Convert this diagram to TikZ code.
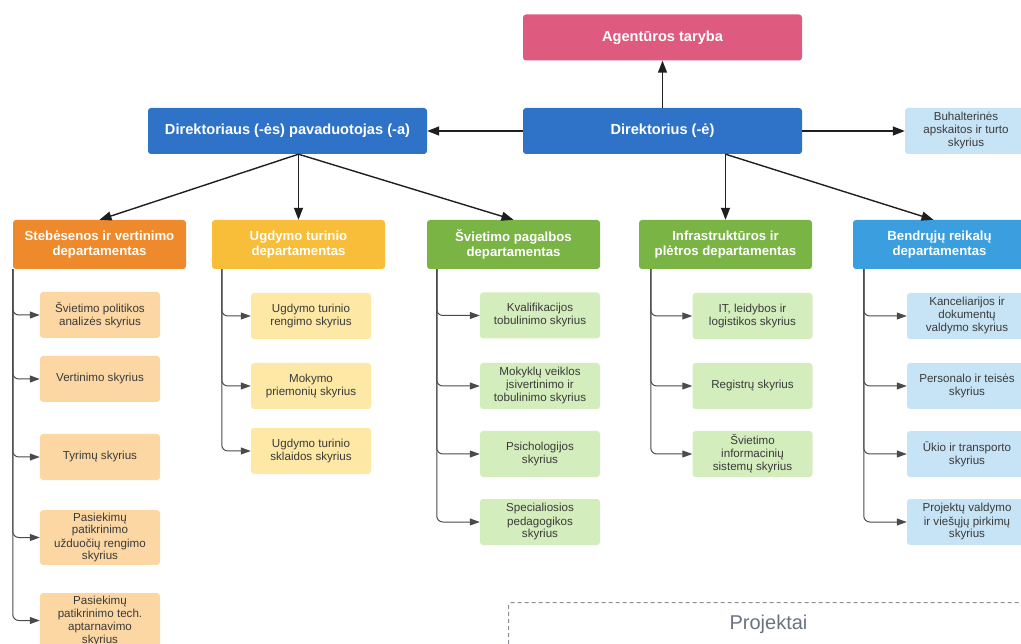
\documentclass[tikz,border=0pt]{standalone}
\usepackage{fontspec}
\setmainfont{Liberation Sans}
\usetikzlibrary{shapes,arrows,arrows.meta,positioning}

\definecolor{tarybaPink}{HTML}{DE5B7F}
\definecolor{dirBlue}{HTML}{2E73C8}
\definecolor{orangeDept}{HTML}{EE8A2B}
\definecolor{yellowDept}{HTML}{F8BE3A}
\definecolor{greenDept}{HTML}{7AB445}
\definecolor{blueDept}{HTML}{3A9EDF}
\definecolor{orangeUnit}{HTML}{FCD7A3}
\definecolor{yellowUnit}{HTML}{FDE8A5}
\definecolor{greenUnit}{HTML}{D4EDBD}
\definecolor{blueUnit}{HTML}{C7E4F6}
\definecolor{unitText}{HTML}{3A3A3A}
\definecolor{subLine}{HTML}{4A4A4A}
\definecolor{dashGray}{HTML}{8A8F96}
\definecolor{projText}{HTML}{6B7280}

\begin{document}
\begin{tikzpicture}[x=1pt,y=-1pt]
  \tikzset{head node/.style={rectangle, rounded corners=3pt, text=white,
		align=center, minimum width=279, minimum height=46,
		font=\fontsize{14.6}{16}\selectfont\bfseries}, }
\tikzset{dept node/.style={rectangle, rounded corners=3pt, text=white,
		align=center, minimum width=173, minimum height=49, inner sep=2,
		font=\fontsize{13.2}{14.2}\selectfont\bfseries}, }
\tikzset{unit node/.style={rectangle, rounded corners=3pt, text=unitText,
		align=center, minimum width=120, minimum height=46, inner sep=2.5,
		font=\fontsize{11.6}{13}\selectfont}, }
\tikzset{proj node/.style={rectangle, draw=dashGray, dash pattern=on 4pt off 3pt,
		line width=1pt, rounded corners=3pt, text=projText,
		font=\fontsize{20}{22}\selectfont}, }
\tikzset{linea/.style={-{Triangle[length=12pt,width=9pt]}, draw=black!88, line width=1.4pt},}
\tikzset{sub linea/.style={-{Triangle[length=10pt,width=7pt]}, draw=subLine, line width=1pt, rounded corners=6pt},}
\useasboundingbox (0,0) rectangle (1021,644);
%
    \node[head node, fill=dirBlue] (1) at (662.5,131) {Direktorius (-ė)};
    \node[head node, fill=tarybaPink] (2) at (662.5,37.5) {Agentūros taryba};
    \node[head node, fill=dirBlue] (3) at (287.5,131) {Direktoriaus (-ės) pavaduotojas (-a)};
    \node[unit node, fill=blueUnit, minimum width=122] (4) at (966,131) {Buhalterinės\\apskaitos ir turto\\skyrius};
%
    \node[dept node, fill=orangeDept] (5) at (99.5,244.5) {Stebėsenos ir vertinimo\\departamentas};
    \node[dept node, fill=yellowDept] (6) at (298.5,244.5) {Ugdymo turinio\\departamentas};
    \node[dept node, fill=greenDept] (7) at (513.5,244.5) {Švietimo pagalbos\\departamentas};
    \node[dept node, fill=greenDept] (8) at (725.5,244.5) {Infrastruktūros ir\\plėtros departamentas};
    \node[dept node, fill=blueDept] (9) at (939.5,244.5) {Bendrųjų reikalų\\departamentas};
%
   \node[unit node, fill=orangeUnit] (51) at (100,315) {Švietimo politikos\\analizės skyrius};
   \node[unit node, fill=orangeUnit] (52) at (100,379) {Vertinimo skyrius};
   \node[unit node, fill=orangeUnit] (53) at (100,457) {Tyrimų skyrius};
   \node[unit node, fill=orangeUnit] (54) at (100,537.5) {Pasiekimų\\patikrinimo\\užduočių rengimo\\skyrius};
   \node[unit node, fill=orangeUnit] (55) at (100,620.5) {Pasiekimų\\patikrinimo tech.\\aptarnavimo\\skyrius};
%
   \node[unit node, fill=yellowUnit] (61) at (311,316) {Ugdymo turinio\\rengimo skyrius};
   \node[unit node, fill=yellowUnit] (62) at (311,386) {Mokymo\\priemonių skyrius};
   \node[unit node, fill=yellowUnit] (63) at (311,451) {Ugdymo turinio\\sklaidos skyrius};
%
   \node[unit node, fill=greenUnit] (71) at (540,315.5) {Kvalifikacijos\\tobulinimo skyrius};
   \node[unit node, fill=greenUnit] (72) at (540,386) {Mokyklų veiklos\\įsivertinimo ir\\tobulinimo skyrius};
   \node[unit node, fill=greenUnit] (73) at (540,454) {Psichologijos\\skyrius};
   \node[unit node, fill=greenUnit] (74) at (540,522) {Specialiosios\\pedagogikos\\skyrius};
%
   \node[unit node, fill=greenUnit] (81) at (752.5,316) {IT, leidybos ir\\logistikos skyrius};
   \node[unit node, fill=greenUnit] (82) at (752.5,386) {Registrų skyrius};
   \node[unit node, fill=greenUnit] (83) at (752.5,454) {Švietimo\\informacinių\\sistemų skyrius};
%
   \node[unit node, fill=blueUnit] (91) at (967,316) {Kanceliarijos ir\\dokumentų\\valdymo skyrius};
   \node[unit node, fill=blueUnit] (92) at (967,386) {Personalo ir teisės\\skyrius};
   \node[unit node, fill=blueUnit] (93) at (967,454) {Ūkio ir transporto\\skyrius};
   \node[unit node, fill=blueUnit] (94) at (967,522) {Projektų valdymo\\ir viešųjų pirkimų\\skyrius};
%
   \node[proj node, anchor=north west, minimum width=520, text height=14, text depth=60,
         inner ysep=13] (10) at (508,602) {Projektai};
%
\draw[linea] (1.north) -- (2.south);
\draw[linea] (1.west) -- (3.east);
\draw[linea] (1.east) -- (4.west);
\draw[linea] (1.south -| 8) -- (8.north);
\draw[linea] (1.south -| 8) -- ([xshift=-6]9.north);
\foreach \y in {5,6,7}
  \draw[linea] (3.south -| 6) -- ([xshift=0]\y.north);
%
\foreach \x/\y/\s in {5/51/0,5/52/0,5/53/0,5/54/0,5/55/0,
                      6/61/10,6/62/10,6/63/10,
                      7/71/10,7/72/10,7/73/10,7/74/10,
                      8/81/12,8/82/12,8/83/12,
                      9/91/11,9/92/11,9/93/11,9/94/11}
  \draw[sub linea] ([xshift=\s]\x.south west) |- (\y.west);
%
\end{tikzpicture}
\end{document}
